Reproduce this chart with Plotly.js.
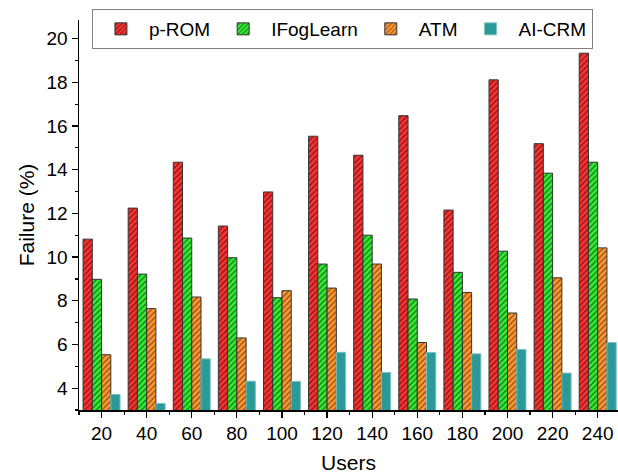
<!DOCTYPE html>
<html>
<head>
<meta charset="utf-8">
<script src="https://cdn.plot.ly/plotly-3.0.1.min.js"></script>
<style>html,body{margin:0;padding:0;background:#fff;}#chart{width:618px;height:476px;}</style>
</head>
<body>
<div id="chart"></div>
<script>
const users = [20, 40, 60, 80, 100, 120, 140, 160, 180, 200, 220, 240];
const pROM = [10.82, 12.24, 14.34, 11.42, 12.98, 15.53, 14.66, 16.47, 12.15, 18.11, 15.19, 19.33];
const iFogLearn = [8.98, 9.22, 10.87, 9.97, 8.14, 9.68, 11.0, 8.08, 9.3, 10.27, 13.84, 14.34];
const atm = [5.53, 7.64, 8.17, 6.3, 8.46, 8.58, 9.68, 6.09, 8.38, 7.44, 9.05, 10.42];
const aiCRM = [3.71, 3.3, 5.34, 4.32, 4.31, 5.64, 4.72, 5.63, 5.57, 5.77, 4.69, 6.09];
const seriesNames = ['p-ROM', 'IFogLearn', 'ATM', 'AI-CRM'];

function barTrace(name, y, color, lineColor, patColor) {
  return {
    type: 'bar', name: name, x: users, y: y,
    marker: {
      color: color,
      line: {color: lineColor, width: 1},
      pattern: {shape: '/', fillmode: 'replace', bgcolor: color, fgcolor: patColor, size: 4, solidity: 0.3}
    }
  };
}

const data = [
  barTrace(seriesNames[0], pROM, '#FF3333', '#333333', '#7a1515'),
  barTrace(seriesNames[1], iFogLearn, '#33F033', '#333333', '#1a6a1a'),
  barTrace(seriesNames[2], atm, '#FF9A33', '#333333', '#8a4a15'),
  barTrace(seriesNames[3], aiCRM, '#2A9898', '#7fc0c0', '#2f9c9c')
];

const layout = {
  width: 618, height: 476,
  margin: {l: 79, r: 0, t: 9, b: 66},
  paper_bgcolor: '#ffffff', plot_bgcolor: '#ffffff',
  font: {family: 'Arial, Liberation Sans, sans-serif', size: 19, color: '#000'},
  barmode: 'group', bargap: 0.18, bargroupgap: 0,
  showlegend: true,
  legend: {
    orientation: 'h', x: 0.024, y: 1, xanchor: 'left', yanchor: 'top',
    bordercolor: '#808080', borderwidth: 1, bgcolor: '#ffffff',
    font: {size: 19}, itemwidth: 46, traceorder: 'normal'
  },
  xaxis: {
    type: 'linear', range: [10, 249], tick0: 20, dtick: 20,
    ticks: 'outside', ticklen: 6, tickwidth: 1.2, tickcolor: '#000',
    showline: true, linecolor: '#000', linewidth: 1.5, mirror: false,
    showgrid: false, zeroline: false, automargin: false,
    minor: {tick0: 10, dtick: 20, ticks: 'outside', ticklen: 3, tickcolor: '#000', showgrid: false},
    tickfont: {size: 19},
    title: {text: 'Users', font: {size: 21}, standoff: 12}
  },
  yaxis: {
    domain: [0, 0.9726],
    range: [3, 20.85], tick0: 4, dtick: 2,
    ticks: 'outside', ticklen: 6, tickwidth: 1.2, tickcolor: '#000',
    showline: true, linecolor: '#000', linewidth: 1.5, mirror: false,
    showgrid: false, zeroline: false, automargin: false,
    minor: {dtick: 1, ticks: 'outside', ticklen: 3, tickcolor: '#000', showgrid: false},
    tickfont: {size: 19},
    title: {text: 'Failure (%)', font: {size: 21}, standoff: 6}
  }
};

Plotly.newPlot('chart', data, layout, {displayModeBar: false, staticPlot: true});
</script>
</body>
</html>
